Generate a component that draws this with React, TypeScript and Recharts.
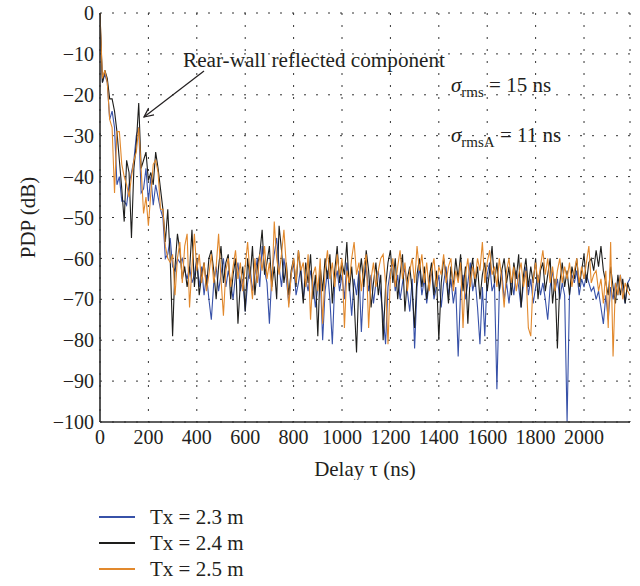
import { LineChart, Line, XAxis, YAxis, CartesianGrid } from 'recharts'

// sampling step of the measured PDP (ns)
const step = 10

// PDP values in dB, one row = 100 ns
const tx23 = [
  -2, -17, -15, -17, -26, -24, -28, -42, -40, -46,
  -46, -47, -42, -39, -36, -30, -28, -44, -43, -38,
  -46, -40, -47, -42, -45, -48, -50, -60, -59, -55,
  -62, -63, -60, -61, -60, -63, -65, -62, -66, -64,
  -60, -67, -62, -69, -64, -70, -75, -66, -62, -68,
  -64, -60, -67, -63, -66, -70, -64, -61, -68, -65,
  -73, -66, -62, -68, -64, -60, -67, -57, -63, -66,
  -76, -64, -59, -55, -62, -67, -60, -65, -71, -64,
  -61, -69, -66, -62, -70, -65, -68, -63, -66, -72,
  -67, -64, -80, -68, -63, -70, -81, -66, -63, -68,
  -64, -70, -61, -66, -74, -65, -69, -63, -78, -66,
  -62, -68, -64, -71, -66, -63, -69, -74, -81, -67,
  -63, -61, -68, -64, -70, -66, -62, -68, -73, -65,
  -82, -67, -62, -69, -65, -71, -66, -63, -70, -67,
  -64, -72, -66, -62, -69, -65, -71, -67, -84, -68,
  -64, -70, -66, -61, -68, -65, -72, -81, -67, -79,
  -64, -61, -68, -66, -92, -68, -63, -70, -66, -71,
  -65, -69, -63, -67, -72, -66, -62, -69, -65, -71,
  -67, -64, -69, -66, -70, -75, -67, -63, -68, -65,
  -70, -66, -69, -100, -69, -64, -66, -63, -69, -65,
  -67, -64, -66, -68, -67, -70, -68, -72, -76, -69,
  -75, -67, -70, -66, -69, -64, -68, -71, -66, -65,
]

const tx24 = [
  0, -17, -14, -16, -21, -21, -24, -29, -36, -43,
  -51, -36, -39, -55, -38, -32, -22, -38, -36, -34,
  -41, -39, -42, -34, -38, -43, -48, -56, -48, -60,
  -79, -62, -54, -58, -65, -62, -67, -63, -53, -67,
  -60, -69, -64, -61, -67, -60, -58, -63, -70, -62,
  -57, -66, -61, -59, -70, -64, -60, -76, -66, -62,
  -73, -60, -65, -57, -69, -62, -59, -53, -64, -61,
  -57, -67, -62, -70, -52, -58, -66, -61, -69, -63,
  -60, -67, -58, -64, -71, -61, -66, -59, -70, -64,
  -79, -62, -68, -60, -65, -59, -71, -63, -57, -66,
  -61, -64, -56, -68, -62, -70, -83, -65, -60, -67,
  -58, -63, -72, -66, -61, -69, -64, -80, -67, -61,
  -58, -66, -60, -70, -64, -59, -73, -65, -62, -68,
  -77, -64, -60, -67, -62, -70, -65, -61, -69, -63,
  -80, -66, -60, -64, -71, -62, -67, -60, -65, -59,
  -68, -62, -76, -64, -60, -67, -62, -70, -64, -61,
  -68, -63, -57, -66, -61, -68, -63, -60, -66, -62,
  -69, -61, -65, -59, -72, -64, -60, -67, -62, -66,
  -60, -70, -63, -61, -68, -64, -60, -71, -65, -82,
  -66, -61, -67, -63, -69, -62, -65, -60, -67, -63,
  -59, -66, -61, -60, -63, -58, -62, -57, -63, -66,
  -69, -62, -67, -71, -64, -69, -65, -71, -66, -68,
]

const tx25 = [
  0, -16, -14, -17, -26, -28, -44, -29, -29, -37,
  -40, -42, -45, -40, -36, -34, -28, -38, -49, -45,
  -52, -44, -37, -36, -39, -48, -48, -57, -60, -61,
  -59, -69, -60, -56, -66, -57, -54, -72, -62, -54,
  -63, -59, -66, -61, -68, -64, -59, -66, -62, -54,
  -65, -74, -63, -60, -67, -62, -58, -65, -61, -68,
  -62, -56, -64, -70, -60, -66, -59, -63, -57, -65,
  -61, -68, -51, -60, -64, -59, -53, -62, -72, -64,
  -60, -66, -58, -63, -61, -67, -59, -75, -64, -62,
  -68, -60, -76, -63, -58, -65, -61, -67, -59, -64,
  -60, -77, -63, -66, -60, -56, -64, -61, -68, -62,
  -59, -77, -65, -61, -67, -63, -60, -59, -66, -81,
  -64, -60, -67, -62, -58, -65, -61, -68, -63, -60,
  -66, -57, -63, -59, -66, -61, -68, -63, -60, -67,
  -62, -64, -59, -66, -62, -60, -68, -63, -66, -61,
  -77, -64, -60, -67, -62, -65, -60, -63, -56, -66,
  -61, -58, -64, -62, -67, -60, -65, -72, -63, -60,
  -66, -62, -68, -64, -61, -67, -63, -77, -79, -65,
  -61, -66, -62, -58, -64, -60, -66, -62, -68, -63,
  -60, -66, -62, -65, -61, -67, -63, -60, -66, -62,
  -65, -61, -57, -66, -64, -63, -68, -65, -71, -63,
  -77, -56, -84, -66, -69, -64, -70, -66, -68, -69,
]

const xTicks = [0, 200, 400, 600, 800, 1000, 1200, 1400, 1600, 1800, 2000]
const yTicks = [0, -10, -20, -30, -40, -50, -60, -70, -80, -90, -100]

const series = [
  { key: 'tx23', name: 'Tx = 2.3 m', color: '#3751a8' },
  { key: 'tx24', name: 'Tx = 2.4 m', color: '#1e1e1c' },
  { key: 'tx25', name: 'Tx = 2.5 m', color: '#e2892d' },
]

const data = tx24.map((v, i) => ({
  delay: i * step,
  tx23: tx23[i],
  tx24: v,
  tx25: tx25[i],
}))

const font = "'Liberation Serif', 'DejaVu Serif', serif"
const ink = '#231f20'
const fmtY = (v: number) => (v < 0 ? `\u2212${-v}` : `${v}`)

const App = () => {
  return (
    <div
      style={{
        position: 'absolute',
        left: 0,
        top: 0,
        width: 640,
        height: 586,
        background: '#fff',
        fontFamily: font,
      }}
    >
      <LineChart
        width={640}
        height={480}
        data={data}
        margin={{ top: 13, right: 10, bottom: 0, left: 0 }}
      >
        <CartesianGrid stroke="#333" strokeDasharray="2 10" strokeWidth={1} />
        <XAxis
          dataKey="delay"
          type="number"
          domain={[0, 2190]}
          ticks={xTicks}
          allowDataOverflow
          height={58}
          tickLine={false}
          axisLine={{ stroke: '#2a2a2a', strokeWidth: 1.6 }}
          tick={{ fill: ink, fontSize: 20, fontFamily: font }}
          label={{
            value: 'Delay \u03c4 (ns)',
            position: 'insideBottom',
            offset: 4,
            fill: ink,
            fontSize: 21,
            fontFamily: font,
          }}
        />
        <XAxis
          xAxisId="top"
          dataKey="delay"
          type="number"
          orientation="top"
          domain={[0, 2190]}
          ticks={xTicks}
          height={0}
          mirror
          tick={false}
          tickSize={4}
          tickLine={{ stroke: '#444' }}
          axisLine={{ stroke: '#444', strokeWidth: 1.4 }}
        />
        <YAxis
          type="number"
          domain={[-100, 0]}
          ticks={yTicks}
          width={100}
          tickMargin={0}
          tickLine={false}
          tickFormatter={fmtY}
          axisLine={{ stroke: '#2a2a2a', strokeWidth: 1.6 }}
          tick={{ fill: ink, fontSize: 20, fontFamily: font }}
          label={{
            value: 'PDP (dB)',
            angle: -90,
            position: 'insideLeft',
            offset: 28,
            fill: ink,
            fontSize: 21,
            fontFamily: font,
            style: { textAnchor: 'middle' },
          }}
        />
        <YAxis
          yAxisId="right"
          type="number"
          orientation="right"
          domain={[-100, 0]}
          ticks={yTicks}
          width={0}
          mirror
          tick={false}
          tickSize={4}
          tickLine={{ stroke: '#555' }}
          axisLine={{ stroke: '#666', strokeWidth: 2 }}
        />
        {series.map((s) => (
          <Line
            key={s.key}
            dataKey={s.key}
            name={s.name}
            type="linear"
            stroke={s.color}
            strokeWidth={1.1}
            dot={false}
            isAnimationActive={false}
          />
        ))}
      </LineChart>

      {/* annotations */}
      <svg
        width={640}
        height={480}
        style={{ position: 'absolute', left: 0, top: 0, pointerEvents: 'none' }}
        fontFamily={font}
        fill={ink}
      >
        <text x={183} y={67} fontSize={20} textLength={262} lengthAdjust="spacingAndGlyphs">
          Rear-wall reflected component
        </text>
        <line x1={204} y1={71} x2={144} y2={117} stroke={ink} strokeWidth={1.2} />
        <polyline points="154,114.8 144,117 148.6,108.1" fill="none" stroke={ink} strokeWidth={1.2} />
        <text x={451} y={92} fontSize={21}>
          <tspan fontStyle="italic">σ</tspan>
          <tspan fontSize={15} dy={5}>rms</tspan>
          <tspan dy={-5}> = 15 ns</tspan>
        </text>
        <text x={451} y={142} fontSize={21}>
          <tspan fontStyle="italic">σ</tspan>
          <tspan fontSize={15} dy={5}>rmsA</tspan>
          <tspan dy={-5}> = 11 ns</tspan>
        </text>
      </svg>

      {/* legend */}
      <div style={{ position: 'absolute', left: 99, top: 504 }}>
        {series.map((s) => (
          <div key={s.key} style={{ display: 'flex', alignItems: 'center', height: 26 }}>
            <div style={{ width: 36, height: 2, background: s.color }} />
            <span style={{ marginLeft: 15, fontSize: 21, color: ink, lineHeight: '26px' }}>{s.name}</span>
          </div>
        ))}
      </div>
    </div>
  )
}

export default App
